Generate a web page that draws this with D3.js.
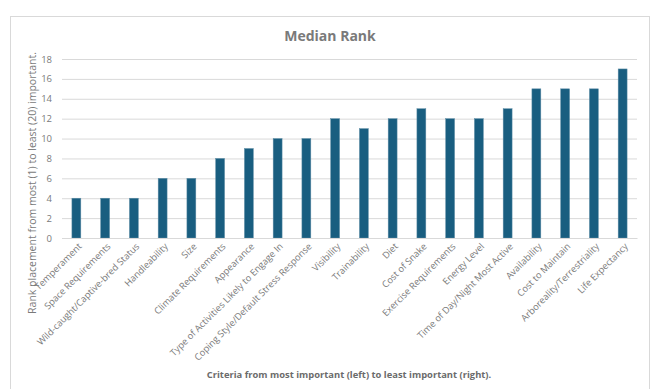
<!DOCTYPE html>
<html>
<head>
<meta charset="utf-8">
<script src="https://cdn.jsdelivr.net/npm/d3@7"></script>
<style>
  body { margin: 0; background: #fff; }
  text { font-family: "Open Sans", "Noto Sans", sans-serif; }
</style>
</head>
<body>
<div id="chart"></div>
<script>
const categories = [
  "Temperament", "Space Requirements", "Wild-caught/Captive-bred Status",
  "Handleability", "Size", "Climate Requirements", "Appearance",
  "Type of Activities Likely to Engage In", "Coping Style/Default Stress Response",
  "Visibility", "Trainability", "Diet", "Cost of Snake", "Exercise Requirements",
  "Energy Level", "Time of Day/Night Most Active", "Availability",
  "Cost to Maintain", "Arboreality/Terrestriality", "Life Expectancy"
];
const medianRank = [4, 4, 4, 6, 6, 8, 9, 10, 10, 12, 11, 12, 13, 12, 12, 13, 15, 15, 15, 17];
const yTicks = [0, 2, 4, 6, 8, 10, 12, 14, 16, 18];

const W = 651, H = 389;
const margin = { top: 59, right: 14, bottom: 151, left: 62 };
const width = W - margin.left - margin.right;
const height = H - margin.top - margin.bottom;

const svg = d3.select("#chart").append("svg")
  .attr("width", W)
  .attr("height", H);

// Chart frame
svg.append("rect")
  .attr("x", 10.5).attr("y", 16.5)
  .attr("width", 639).attr("height", 380)
  .attr("fill", "#fff")
  .attr("stroke", "#d9d9d9");

const g = svg.append("g")
  .attr("transform", `translate(${margin.left},${margin.top})`);

const x = d3.scaleBand()
  .domain(categories)
  .range([0, width])
  .paddingInner(0.69)
  .paddingOuter(0.345);

const y = d3.scaleLinear()
  .domain([0, 18])
  .range([height, 0]);

// Gridlines
g.append("g")
  .call(d3.axisLeft(y).tickValues(yTicks).tickSize(-width).tickFormat(""))
  .call(a => a.select(".domain").remove())
  .call(a => a.selectAll("line").attr("stroke", "#d9d9d9"));

// Y axis labels
g.append("g")
  .call(d3.axisLeft(y).tickValues(yTicks).tickSize(0).tickPadding(10))
  .call(a => a.select(".domain").remove())
  .call(a => a.selectAll("text")
    .attr("fill", "#7a7a7a")
    .style("font-size", "9.5px"));

// Bars
g.selectAll(".bar")
  .data(medianRank)
  .join("rect")
  .attr("class", "bar")
  .attr("x", (d, i) => x(categories[i]))
  .attr("y", d => y(d))
  .attr("width", x.bandwidth())
  .attr("height", d => height - y(d))
  .attr("fill", "#195e80")
  .attr("stroke", "#5f8ea6")
  .attr("stroke-width", 0.5);

// X axis
g.append("g")
  .attr("transform", `translate(0,${height})`)
  .call(d3.axisBottom(x).tickSize(0).tickPadding(0))
  .call(a => a.select(".domain").attr("stroke", "#d9d9d9"))
  .call(a => a.selectAll("text")
    .attr("fill", "#7a7a7a")
    .style("font-size", "9.3px")
    .attr("text-anchor", "end")
    .attr("dy", "0")
    .attr("transform", "translate(6,9) rotate(-45)"));

// Title
svg.append("text")
  .attr("x", 330).attr("y", 41)
  .attr("text-anchor", "middle")
  .attr("fill", "#7a7a7a")
  .style("font-size", "14px")
  .style("font-weight", "bold")
  .text("Median Rank");

// Y axis title
svg.append("text")
  .attr("transform", `translate(36,${183}) rotate(-90)`)
  .attr("text-anchor", "middle")
  .attr("fill", "#7a7a7a")
  .style("font-size", "10.5px")
  .text("Rank placement from most (1) to least (20) important.");

// X axis title
svg.append("text")
  .attr("x", 349).attr("y", 378)
  .attr("text-anchor", "middle")
  .attr("fill", "#6b6b6b")
  .style("font-size", "9.4px")
  .style("font-weight", "bold")
  .text("Criteria from most important (left) to least important (right).");
</script>
</body>
</html>
